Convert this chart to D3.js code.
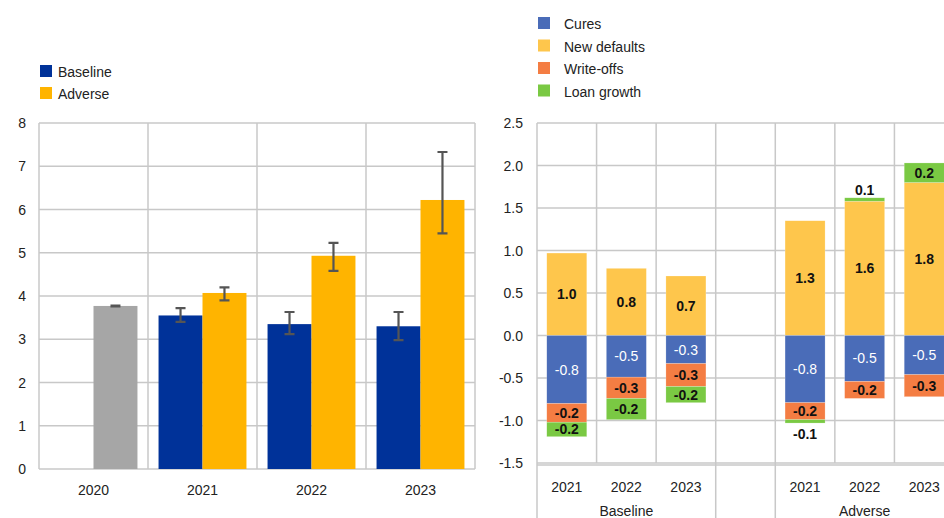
<!DOCTYPE html>
<html><head><meta charset="utf-8">
<script src="https://cdn.jsdelivr.net/npm/d3@7"></script>
<style>body{margin:0;background:#fff}svg{font-family:"Liberation Sans",Arial,sans-serif}</style>
</head><body>
<svg id="c" width="944" height="518"></svg>
<script>
// left panel
const years = ["2020", "2021", "2022", "2023"];
const baseline = [null, 3.55, 3.35, 3.30];
const adverse = [3.77, 4.07, 4.93, 6.22];
const baseErr = [null, [3.40, 3.72], [3.12, 3.63], [2.98, 3.63]];
const advErr = [[3.76, 3.78], [3.90, 4.20], [4.58, 5.23], [5.45, 7.33]];
const leftTicks = [0, 1, 2, 3, 4, 5, 6, 7, 8];

// right panel
const slots = ["B2021", "B2022", "B2023", "gap", "A2021", "A2022", "A2023"];
const slotLabels = ["2021", "2022", "2023", "", "2021", "2022", "2023"];
const cures = [-0.80, -0.49, -0.33, null, -0.79, -0.54, -0.46];
const newDefaults = [0.97, 0.79, 0.70, null, 1.35, 1.58, 1.80];
const writeOffs = [-0.22, -0.25, -0.27, null, -0.20, -0.20, -0.26];
const loanGrowth = [-0.17, -0.25, -0.19, null, -0.04, 0.04, 0.23];
const curesLbl = ["-0.8", "-0.5", "-0.3", "", "-0.8", "-0.5", "-0.5"];
const ndLbl = ["1.0", "0.8", "0.7", "", "1.3", "1.6", "1.8"];
const woLbl = ["-0.2", "-0.3", "-0.3", "", "-0.2", "-0.2", "-0.3"];
const lgLbl = ["-0.2", "-0.2", "-0.2", "", "-0.1", "0.1", "0.2"];
const rightTicks = [-1.5, -1.0, -0.5, 0, 0.5, 1.0, 1.5, 2.0, 2.5];

const svg = d3.select("#c");
const grid = "#c8c8c8", txt = "#222";

// ---------- left ----------
const x = d3.scaleBand().domain(years).range([39, 475]);
const y = d3.scaleLinear().domain([0, 8]).range([469, 123]);
const L = svg.append("g");
L.selectAll(".hg").data(leftTicks).join("line")
  .attr("x1", 39).attr("x2", 475).attr("y1", d => y(d)).attr("y2", d => y(d))
  .attr("stroke", grid).attr("stroke-width", 1.5);
L.selectAll(".vg").data([...years.map(d => x(d)), 475]).join("line")
  .attr("x1", d => d).attr("x2", d => d).attr("y1", 123).attr("y2", 469)
  .attr("stroke", grid).attr("stroke-width", 1.5);
L.selectAll(".yt").data(leftTicks).join("text")
  .attr("x", 26).attr("y", d => y(d) + 5).attr("text-anchor", "end")
  .attr("font-size", 14).attr("fill", txt).text(d => d);
L.selectAll(".xt").data(years).join("text")
  .attr("x", d => x(d) + x.bandwidth() / 2).attr("y", 495).attr("text-anchor", "middle")
  .attr("font-size", 14).attr("fill", txt).text(d => d);

const inner = d3.scaleBand().domain(["b", "a"]).range([0, x.bandwidth()]).paddingOuter(0.24).paddingInner(0);
years.forEach((yr, i) => {
  const series = [["b", baseline[i], baseErr[i], "#003299"], ["a", adverse[i], advErr[i], i === 0 ? "#a6a6a6" : "#ffb400"]];
  series.forEach(([k, v, e, col]) => {
    if (v == null) return;
    const bx = x(yr) + inner(k);
    L.append("rect").attr("x", bx).attr("y", y(v)).attr("width", inner.bandwidth())
      .attr("height", y(0) - y(v)).attr("fill", col);
    const cx = bx + inner.bandwidth() / 2;
    L.append("path").attr("d", `M${cx},${y(e[0])}V${y(e[1])}M${cx - 5},${y(e[0])}H${cx + 5}M${cx - 5},${y(e[1])}H${cx + 5}`)
      .attr("stroke", "#555").attr("stroke-width", 2.2).attr("fill", "none");
  });
});
const leg1 = [["Baseline", "#003299"], ["Adverse", "#ffb400"]];
leg1.forEach(([t, c], i) => {
  L.append("rect").attr("x", 40).attr("y", 65 + i * 22).attr("width", 12).attr("height", 12).attr("fill", c);
  L.append("text").attr("x", 58).attr("y", 77 + i * 22).attr("font-size", 14).attr("fill", txt).text(t);
});

// ---------- right ----------
const xr = d3.scaleBand().domain(slots).range([537, 954]);
const yr = d3.scaleLinear().domain([-1.5, 2.5]).range([463, 123]);
const R = svg.append("g");
R.selectAll(".hg").data(rightTicks).join("line")
  .attr("x1", 537).attr("x2", 944).attr("y1", d => yr(d)).attr("y2", d => yr(d))
  .attr("stroke", grid).attr("stroke-width", 1.5);
R.selectAll(".vg").data(slots).join("line")
  .attr("x1", d => xr(d)).attr("x2", d => xr(d)).attr("y1", 123)
  .attr("y2", d => ["B2021", "gap", "A2021"].includes(d) ? 518 : 463)
  .attr("stroke", grid).attr("stroke-width", 1.5);
R.append("line").attr("x1", 537).attr("x2", 944).attr("y1", yr(-1.5) + 2).attr("y2", yr(-1.5) + 2)
  .attr("stroke", grid).attr("stroke-width", 1.5);
R.selectAll(".yt").data(rightTicks).join("text")
  .attr("x", 523).attr("y", d => yr(d) + 5).attr("text-anchor", "end")
  .attr("font-size", 14).attr("fill", txt).text(d => d.toFixed(1));
R.selectAll(".xt").data(slots).join("text")
  .attr("x", d => xr(d) + xr.bandwidth() / 2).attr("y", 492).attr("text-anchor", "middle")
  .attr("font-size", 14).attr("fill", txt).text((d, i) => slotLabels[i]);
R.append("text").attr("x", (xr("B2021") + xr("gap")) / 2).attr("y", 516).attr("text-anchor", "middle")
  .attr("font-size", 14).attr("fill", txt).text("Baseline");
R.append("text").attr("x", xr("A2022") + xr.bandwidth() / 2).attr("y", 516).attr("text-anchor", "middle")
  .attr("font-size", 14).attr("fill", txt).text("Adverse");

const colors = { cures: "#4a6cb8", nd: "#fec64c", wo: "#f47d43", lg: "#7ac943" };
const bw = 40;
slots.forEach((s, i) => {
  if (s === "gap") return;
  const bx = xr(s) + (xr.bandwidth() - bw) / 2, cx = bx + bw / 2;
  let pos = 0, neg = 0;
  const segs = [["nd", newDefaults[i], ndLbl[i]], ["cures", cures[i], curesLbl[i]], ["wo", writeOffs[i], woLbl[i]], ["lg", loanGrowth[i], lgLbl[i]]];
  segs.forEach(([k, v, lb]) => {
    const a = v >= 0 ? pos : neg, b = a + v;
    if (v >= 0) pos = b; else neg = b;
    R.append("rect").attr("x", bx).attr("width", bw)
      .attr("y", yr(Math.max(a, b))).attr("height", Math.abs(yr(a) - yr(b)))
      .attr("fill", colors[k]).attr("stroke", "#fff").attr("stroke-opacity", 0.4).attr("stroke-width", 0.5);
    let ly = yr((a + b) / 2) + 5;
    if (Math.abs(v) < 0.1) ly = v >= 0 ? yr(b) - 3 : yr(b) + 16;
    R.append("text").attr("x", cx).attr("y", ly).attr("text-anchor", "middle")
      .attr("font-size", 14).attr("font-weight", k === "cures" ? "normal" : "bold")
      .attr("fill", k === "cures" ? "#fff" : "#111").text(lb);
  });
});
const leg2 = [["Cures", colors.cures], ["New defaults", colors.nd], ["Write-offs", colors.wo], ["Loan growth", colors.lg]];
leg2.forEach(([t, c], i) => {
  R.append("rect").attr("x", 538).attr("y", 17 + i * 22.5).attr("width", 12).attr("height", 12).attr("fill", c);
  R.append("text").attr("x", 564).attr("y", 29 + i * 22.5).attr("font-size", 14).attr("fill", txt).text(t);
});
</script>
</body></html>
